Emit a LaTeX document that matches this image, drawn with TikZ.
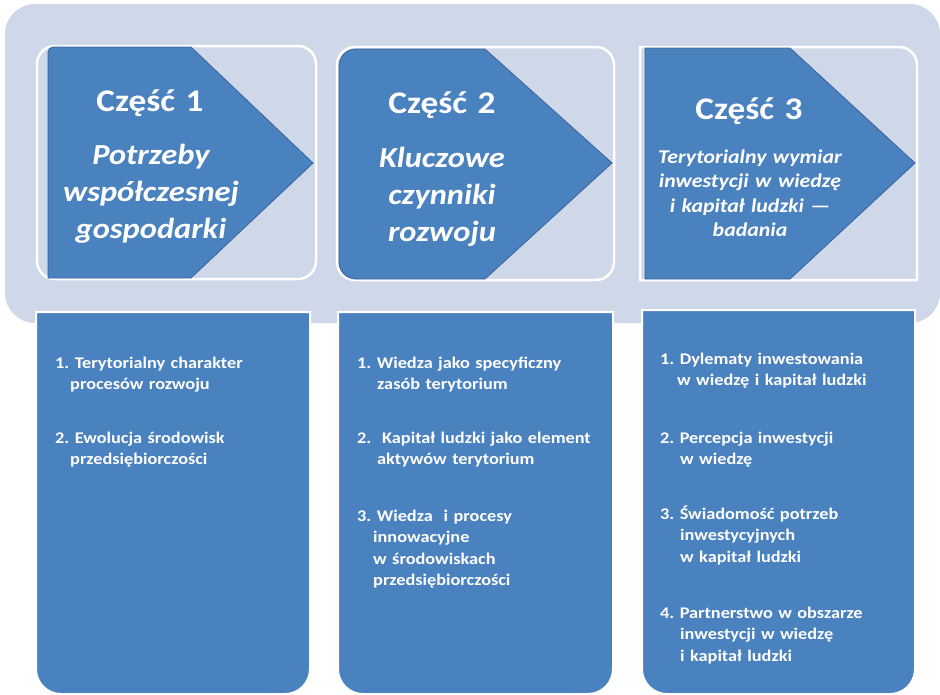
\documentclass[tikz,border=0pt]{standalone}
\usepackage{fontspec}
\setmainfont{Carlito}[FakeStretch=1.12]
\definecolor{bandc}{RGB}{207,216,233}
\definecolor{darkc}{RGB}{74,129,191}
\definecolor{edgec}{RGB}{58,100,155}
\begin{document}
\frenchspacing
\begin{tikzpicture}[x=1pt,y=-1pt,
  band/.style={fill=bandc,draw=none},
  card/.style={fill=bandc,draw=white,line width=2.5pt},
  arrowshape/.style={fill=darkc,draw=edgec,line width=0.8pt},
  lowbox/.style={fill=darkc,draw=white,line width=2pt},
  title/.style={text=white,font=\fontsize{31.5}{37}\selectfont\bfseries\frenchspacing,anchor=base,inner sep=0pt,text width=220pt,align=center},
  subbig/.style={text=white,font=\fontsize{29}{37}\selectfont\bfseries\itshape\frenchspacing,anchor=base,inner sep=0pt,text width=240pt,align=center},
  subsmall/.style={text=white,font=\fontsize{19.5}{24.5}\selectfont\bfseries\itshape\frenchspacing,anchor=base,inner sep=0pt,text width=260pt,align=center},
  item/.style={text=white,font=\fontsize{16.3}{21.5}\selectfont\bfseries\frenchspacing,anchor=base west,inner sep=0pt,text width=280pt,align=left}]
\useasboundingbox (0,0) rectangle (940,694);
% background band
\path[band,rounded corners=30pt] (5,4) rectangle (940,323);
% cards
\path[card,rounded corners=18pt] (37,46) rectangle (316,279);
\path[card,rounded corners=18pt] (337,47) rectangle (614,280);
\path[card] (640,47) -- (899,47) arc[start angle=90,end angle=0,radius=18pt] -- (917,280) -- (640,280) -- cycle;
% arrows
\path[arrowshape] (48,278) -- (48,52) arc[start angle=180,end angle=90,radius=5pt] -- (191,47) -- (313,163) -- (191,278) -- cycle;
\path[arrowshape] (339,262) -- (339,66) arc[start angle=180,end angle=90,radius=17pt] -- (485,49) -- (612,163) -- (485,279) -- (356,279) arc[start angle=270,end angle=180,radius=17pt] -- cycle;
\path[arrowshape] (645,279) -- (645,48) -- (790,48) -- (915,163) -- (790,279) -- cycle;
% lower boxes
\path[lowbox] (36,312) -- (310,312) -- (310,669) arc[start angle=0,end angle=-90,radius=25pt] -- (61,694) arc[start angle=270,end angle=180,radius=25pt] -- cycle;
\path[lowbox] (338,312) -- (613,312) -- (613,669) arc[start angle=0,end angle=-90,radius=25pt] -- (363,694) arc[start angle=270,end angle=180,radius=25pt] -- cycle;
\path[lowbox] (642,310) -- (915,310) -- (915,669) arc[start angle=0,end angle=-90,radius=25pt] -- (667,694) arc[start angle=270,end angle=180,radius=25pt] -- cycle;
% titles
\node[title] (t1) at (150,111) {Część 1};
\node[title] (t2) at (442,113) {Część 2};
\node[title] (t3) at (749,119) {Część 3};
\node[subbig] (s1) at (151,164) {Potrzeby\\współczesnej\\gospodarki};
\node[subbig] (s2) at (442,167) {Kluczowe\\czynniki\\rozwoju};
\node[subsmall] (s3) at (750,163) {Terytorialny wymiar\\inwestycji w wiedzę\\i kapitał ludzki —\\badania};
% items
\node[item] (a1) at (55,368) {1. Terytorialny charakter\\\hspace*{15pt}procesów rozwoju};
\node[item] (a2) at (55,443) {2. Ewolucja środowisk\\\hspace*{15pt}przedsiębiorczości};
\node[item] (b1) at (357,368) {1. Wiedza jako specyficzny\\\hspace*{20pt}zasób terytorium};
\node[item] (b2) at (357,443) {2.\ \ Kapitał ludzki jako element\\\hspace*{20pt}aktywów terytorium};
\node[item] (b3) at (357,521) {3. Wiedza\ \ i procesy\\\hspace*{16pt}innowacyjne\\\hspace*{16pt}w środowiskach\\\hspace*{16pt}przedsiębiorczości};
\node[item] (c1) at (660,364) {1. Dylematy inwestowania\\\hspace*{17pt}w wiedzę i kapitał ludzki};
\node[item] (c2) at (660,443) {2. Percepcja inwestycji\\\hspace*{20pt}w wiedzę};
\node[item] (c3) at (660,519) {3. Świadomość potrzeb\\\hspace*{20pt}inwestycyjnych\\\hspace*{20pt}w kapitał ludzki};
\node[item] (c4) at (660,618) {4. Partnerstwo w obszarze\\\hspace*{20pt}inwestycji w wiedzę\\\hspace*{20pt}i kapitał ludzki};
\end{tikzpicture}
\end{document}
